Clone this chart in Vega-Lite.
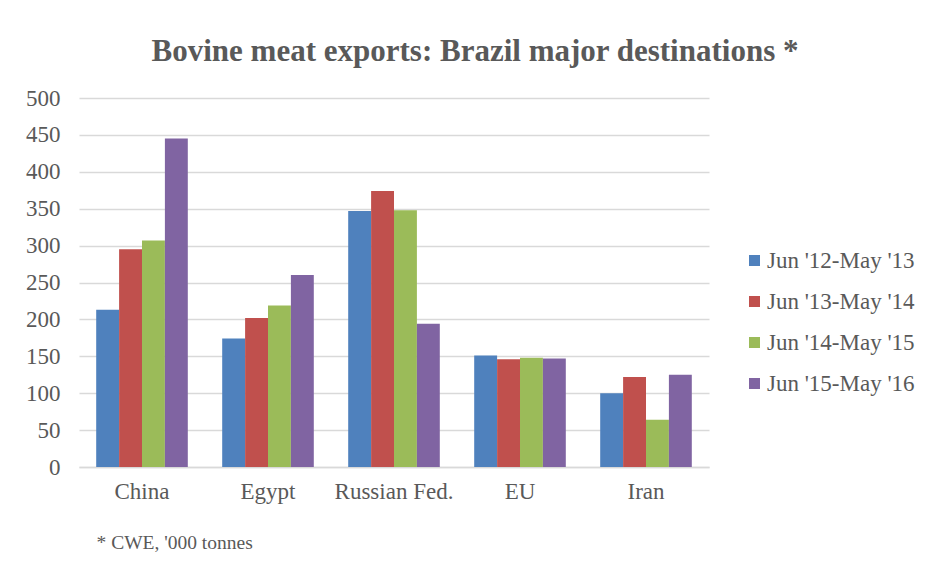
{
  "$schema": "https://vega.github.io/schema/vega-lite/v6.json",
  "autosize": {"type": "none"},
  "width": 630,
  "height": 369,
  "padding": {"left": 79, "top": 98, "right": 219, "bottom": 98},
  "background": "white",
  "title": {
    "text": "Bovine meat exports: Brazil major destinations *",
    "font": "Liberation Serif",
    "fontSize": 31,
    "fontWeight": "bold",
    "color": "#595959",
    "anchor": "middle",
    "dx": 81,
    "dy": 43,
    "baseline": "alphabetic",
    "offset": 38
  },
  "data": {
    "values": [
      {"country": "China", "period": "Jun '12-May '13", "value": 213},
      {"country": "China", "period": "Jun '13-May '14", "value": 295},
      {"country": "China", "period": "Jun '14-May '15", "value": 307},
      {"country": "China", "period": "Jun '15-May '16", "value": 445},
      {"country": "Egypt", "period": "Jun '12-May '13", "value": 174},
      {"country": "Egypt", "period": "Jun '13-May '14", "value": 202},
      {"country": "Egypt", "period": "Jun '14-May '15", "value": 219},
      {"country": "Egypt", "period": "Jun '15-May '16", "value": 260},
      {"country": "Russian Fed.", "period": "Jun '12-May '13", "value": 347},
      {"country": "Russian Fed.", "period": "Jun '13-May '14", "value": 374},
      {"country": "Russian Fed.", "period": "Jun '14-May '15", "value": 348},
      {"country": "Russian Fed.", "period": "Jun '15-May '16", "value": 194},
      {"country": "EU", "period": "Jun '12-May '13", "value": 151},
      {"country": "EU", "period": "Jun '13-May '14", "value": 146},
      {"country": "EU", "period": "Jun '14-May '15", "value": 148},
      {"country": "EU", "period": "Jun '15-May '16", "value": 147},
      {"country": "Iran", "period": "Jun '12-May '13", "value": 100},
      {"country": "Iran", "period": "Jun '13-May '14", "value": 122},
      {"country": "Iran", "period": "Jun '14-May '15", "value": 64},
      {"country": "Iran", "period": "Jun '15-May '16", "value": 125}
    ]
  },
  "mark": {"type": "bar"},
  "encoding": {
    "x": {
      "field": "country",
      "type": "nominal",
      "sort": ["China", "Egypt", "Russian Fed.", "EU", "Iran"],
      "scale": {"paddingInner": 0.273, "paddingOuter": 0.1365},
      "axis": {
        "labelAngle": 0,
        "labelFont": "Liberation Serif",
        "labelFontSize": 23,
        "labelColor": "#595959",
        "labelPadding": 13,
        "ticks": false,
        "domainColor": "#d9d9d9",
        "domainWidth": 1.5,
        "title": "* CWE, '000 tonnes",
        "titleFont": "Liberation Serif",
        "titleFontSize": 19.5,
        "titleFontWeight": "normal",
        "titleColor": "#595959",
        "titleAnchor": "start",
        "titleAlign": "left",
        "titleBaseline": "alphabetic",
        "titleX": 17,
        "titleY": 81
      }
    },
    "xOffset": {
      "field": "period",
      "type": "nominal",
      "scale": {"paddingInner": 0, "paddingOuter": 0}
    },
    "y": {
      "field": "value",
      "type": "quantitative",
      "scale": {"domain": [0, 500], "nice": false},
      "axis": {
        "values": [0, 50, 100, 150, 200, 250, 300, 350, 400, 450, 500],
        "title": null,
        "domain": false,
        "ticks": false,
        "labelFont": "Liberation Serif",
        "labelFontSize": 23,
        "labelColor": "#595959",
        "labelPadding": 19,
        "gridColor": "#d9d9d9",
        "gridWidth": 1.5
      }
    },
    "color": {
      "field": "period",
      "type": "nominal",
      "scale": {"range": ["#4f81bd", "#c0504d", "#9bbb59", "#8064a2"]},
      "legend": {
        "title": null,
        "orient": "none",
        "legendX": 664,
        "legendY": 151,
        "padding": 0,
        "symbolType": "square",
        "symbolSize": 121,
        "symbolStrokeWidth": 0,
        "labelFont": "Liberation Serif",
        "labelFontSize": 23,
        "labelColor": "#595959",
        "labelOffset": 1,
        "rowPadding": 17
      }
    }
  },
  "config": {"view": {"stroke": null}}
}
